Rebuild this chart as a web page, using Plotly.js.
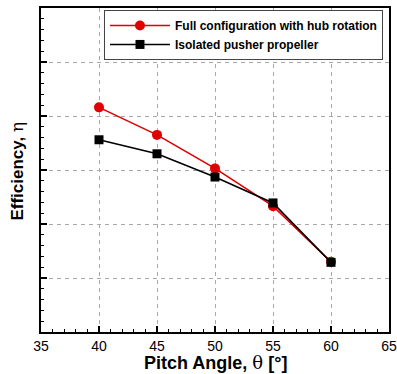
<!DOCTYPE html>
<html>
<head>
<meta charset="utf-8">
<script src="https://cdn.plot.ly/plotly-3.0.1.min.js"></script>
<style>html,body{margin:0;padding:0;background:#fff;}#chart{width:397px;height:374px;}</style>
</head>
<body>
<div id="chart"></div>
<script>
const pitchAngles = [40, 45, 50, 55, 60];
const fullConfigEff = [4.16, 3.65, 3.03, 2.33, 1.30];
const isolatedEff = [3.56, 3.30, 2.87, 2.39, 1.29];
const seriesNames = ['Full configuration with hub rotation', 'Isolated pusher propeller'];
const xTicks = [35, 40, 45, 50, 55, 60, 65];

const traces = [
  {
    x: pitchAngles, y: fullConfigEff, name: seriesNames[0],
    mode: 'lines+markers', type: 'scatter',
    line: {color: '#e00000', width: 1.6},
    marker: {color: '#e00000', symbol: 'circle', size: 10}
  },
  {
    x: pitchAngles, y: isolatedEff, name: seriesNames[1],
    mode: 'lines+markers', type: 'scatter',
    line: {color: '#000000', width: 1.6},
    marker: {color: '#000000', symbol: 'square', size: 9}
  }
];

const layout = {
  width: 397, height: 374,
  margin: {l: 41, r: 8, t: 8, b: 42},
  paper_bgcolor: '#fff', plot_bgcolor: '#fff',
  font: {family: 'Liberation Sans, Arial, sans-serif', color: '#000'},
  showlegend: true,
  legend: {
    x: 0.181, y: 0.994, xanchor: 'left', yanchor: 'top',
    bordercolor: '#444', borderwidth: 1, bgcolor: '#fff',
    font: {size: 12, weight: 'bold', family: 'Liberation Sans, Arial, sans-serif'},
    itemwidth: 60, tracegroupgap: 0
  },
  xaxis: {
    range: [35, 65], tickvals: xTicks, ticktext: xTicks.map(String),
    ticks: 'inside', ticklen: 6, tickwidth: 1.5, tickcolor: '#000',
    showline: true, linewidth: 2, linecolor: '#000', mirror: true,
    showgrid: true, gridcolor: '#aaa', griddash: '4px,4px', gridwidth: 1,
    tickfont: {size: 14}, zeroline: false,
    minor: {ticks: 'inside', ticklen: 3, dtick: 1, tick0: 35, tickcolor: '#000', tickwidth: 1, showgrid: false}
  },
  yaxis: {
    range: [0, 6], dtick: 1, tick0: 0,
    ticks: 'inside', ticklen: 6, tickwidth: 1.5, tickcolor: '#000',
    showticklabels: false,
    showline: true, linewidth: 2, linecolor: '#000', mirror: true,
    showgrid: true, gridcolor: '#aaa', griddash: '4px,4px', gridwidth: 1,
    zeroline: false,
    minor: {ticks: 'inside', ticklen: 3, dtick: 0.2, tick0: 0, tickcolor: '#000', tickwidth: 1, showgrid: false}
  },
  annotations: [
    {
      text: "<b>Pitch Angle, </b><span style='font-family:DejaVu Serif'>θ</span><b> [°]</b>",
      xref: 'paper', yref: 'paper', x: 0.502, y: -0.095, xanchor: 'center', yanchor: 'middle',
      showarrow: false, font: {size: 18}
    },
    {
      text: "<b>Efficiency, </b><span style='font-family:DejaVu Serif'>η</span>",
      xref: 'paper', yref: 'paper', x: -0.07, y: 0.497, xanchor: 'center', yanchor: 'middle',
      textangle: -90, showarrow: false, font: {size: 17}
    }
  ]
};

Plotly.newPlot('chart', traces, layout, {displayModeBar: false, staticPlot: true});
</script>
</body>
</html>
